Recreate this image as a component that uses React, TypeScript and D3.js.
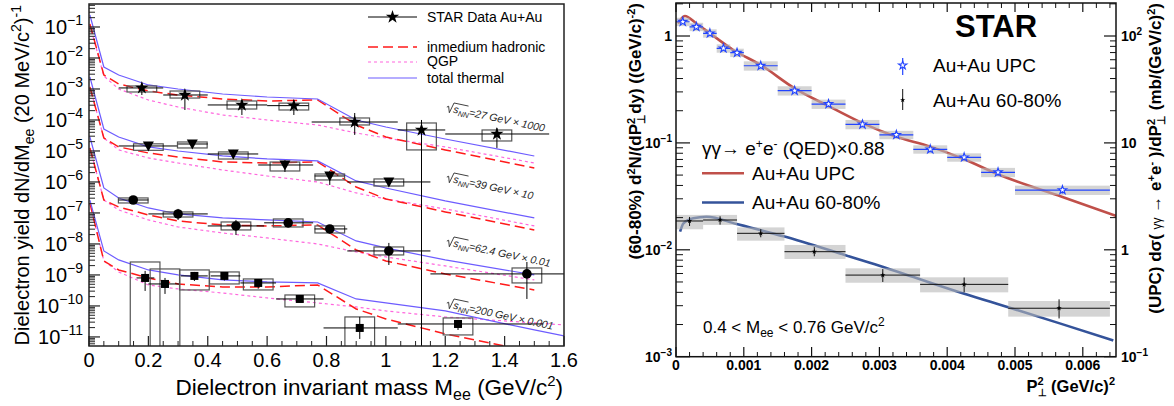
import React from "react";
import * as d3 from "d3";

// ================= LEFT PANEL DATA =================
// theory curves sampled on a common mass grid (GeV/c^2); null = not drawn
const MASS_GRID = [0.003, 0.05, 0.1, 0.2, 0.3, 0.45, 0.6, 0.77, 0.9, 1.0, 1.2, 1.5, 1.6];

const thermal27 = [0.244, 5.12e-3, 2.83e-3, 1.35e-3, 1.0e-3, 6.9e-4, 5.52e-4, 4.76e-4, 1.0e-4, 5.95e-5, 2.44e-5, 6.9e-6, null];
const hadronic27 = [0.125, 2.83e-3, 1.45e-3, 8.62e-4, 6.4e-4, 4.76e-4, 4.1e-4, 4.42e-4, 6.9e-5, 2.83e-5, 1.08e-5, 2.83e-6, null];
const qgp27 = [0.116, 2.62e-3, 1.0e-3, 4.42e-4, 2.62e-4, 1.45e-4, 1.0e-4, 6.9e-5, 3.81e-5, 2.62e-5, 1.35e-5, 4.1e-6, null];

const thermal39 = [2.44e-3, 5.12e-5, 2.83e-5, 1.35e-5, 1.0e-5, 6.9e-6, 5.52e-6, 4.76e-6, 1.08e-6, 6.4e-7, 2.44e-7, 6.9e-8, null];
const hadronic39 = [1.16e-3, 2.62e-5, 1.35e-5, 8.62e-6, 6.4e-6, 4.42e-6, 4.1e-6, 4.42e-6, 6.9e-7, 2.83e-7, 1.08e-7, 2.83e-8, null];
const qgp39 = [1.16e-3, 2.62e-5, 1.08e-5, 5.95e-6, 4.1e-6, 2.44e-6, 1.56e-6, 1.0e-6, 4.42e-7, 2.83e-7, 1.35e-7, 3.81e-8, null];

const thermal62 = [2.83e-5, 6.4e-7, 3.05e-7, 1.45e-7, 9.28e-8, 6.9e-8, 5.95e-8, 5.12e-8, 1.25e-8, 7.43e-9, 3.05e-9, 1.0e-9, null];
const hadronic62 = [1.25e-5, 2.62e-7, 1.56e-7, 8.62e-8, 5.52e-8, 4.1e-8, 3.81e-8, 4.1e-8, 6.4e-9, 2.83e-9, 1.08e-9, 3.28e-10, null];
const qgp62 = [1.25e-5, 2.62e-7, 1.25e-7, 5.95e-8, 3.53e-8, 2.26e-8, 1.56e-8, 1.0e-8, 5.52e-9, 3.81e-9, 1.95e-9, 6.9e-10, null];

const thermal200 = [2.6e-7, 5.95e-9, 3.05e-9, 1.45e-9, 1.0e-9, 6.9e-10, 5.95e-10, 5.52e-10, 1.68e-10, 1.25e-10, 6.9e-11, 1.68e-11, 1.08e-11];
const hadronic200 = [2.1e-7, 2.83e-9, 1.45e-9, 8.0e-10, 5.12e-10, 4.1e-10, 4.1e-10, 4.76e-10, 8.0e-11, 3.81e-11, 1.25e-11, 3.28e-12, 2.1e-12];
const qgp200 = [2.1e-7, 2.83e-9, 1.25e-9, 4.76e-10, 3.53e-10, 2.62e-10, 1.81e-10, 1.25e-10, 9.28e-11, 6.9e-11, 4.42e-11, 2.83e-11, 2.44e-11];

// STAR data rows: [mass, yield, xLow, xHigh, statLow, statHigh, sysLow, sysHigh]
type Row = number[];
const data27: Row[] = [
  [0.178, 1.08e-3, 0.10, 0.25, 6.4e-4, 1.56e-3, 8.0e-4, 1.25e-3],
  [0.323, 6.4e-4, 0.25, 0.40, 2.1e-4, 9.3e-4, 5.1e-4, 8.6e-4],
  [0.515, 3.05e-4, 0.40, 0.60, 1.45e-4, 4.4e-4, 2.26e-4, 4.1e-4],
  [0.690, 2.9e-4, 0.60, 0.74, 1.45e-4, 4.4e-4, 2.1e-4, 3.5e-4],
  [0.895, 8.6e-5, 0.75, 1.04, 3.3e-5, 1.68e-4, 6.9e-5, 1.16e-4],
  [1.120, 4.76e-5, 1.04, 1.20, 1e-14, 1.0e-4, 1.08e-5, 8.0e-5],
  [1.374, 3.53e-5, 1.20, 1.55, 1.25e-5, 5.5e-5, 2.1e-5, 4.76e-5],
];
const data39: Row[] = [
  [0.200, 1.45e-5, 0.10, 0.30, 1.1e-5, 1.85e-5, 1.05e-5, 1.7e-5],
  [0.348, 1.68e-5, 0.30, 0.40, 1.35e-5, 2.0e-5, 1.25e-5, 1.95e-5],
  [0.486, 8.0e-6, 0.40, 0.57, 5.5e-6, 1.08e-5, 5.5e-6, 9.3e-6],
  [0.660, 3.53e-6, 0.57, 0.755, 2.1e-6, 5.1e-6, 2.26e-6, 4.4e-6],
  [0.811, 1.56e-6, 0.76, 0.86, 8.0e-7, 2.26e-6, 1.16e-6, 1.81e-6],
  [1.010, 1.0e-6, 0.87, 1.15, 7.4e-7, 1.25e-6, 7.4e-7, 1.25e-6],
];
const data62: Row[] = [
  [0.149, 2.62e-7, 0.10, 0.20, 2.2e-7, 3.1e-7, 2.1e-7, 3.05e-7],
  [0.300, 9.3e-8, 0.20, 0.40, 5.95e-8, 1.35e-7, 7.4e-8, 1.08e-7],
  [0.495, 3.81e-8, 0.40, 0.59, 1.95e-8, 5.95e-8, 2.83e-8, 5.12e-8],
  [0.671, 4.8e-8, 0.59, 0.755, 3.8e-8, 6.0e-8, 3.53e-8, 6.4e-8],
  [0.811, 3.05e-8, 0.76, 0.87, 2.2e-8, 4.0e-8, 2.26e-8, 3.81e-8],
  [1.010, 5.95e-9, 0.87, 1.15, 2.1e-9, 1.08e-8, 4.42e-9, 8.0e-9],
  [1.475, 1.08e-9, 1.15, 1.65, 1.68e-10, 2.62e-9, 5.52e-10, 1.68e-9],
];
const data200: Row[] = [
  [0.189, 8.0e-10, 0.16, 0.22, 3.05e-10, 1.35e-9, 1e-14, 2.62e-9],
  [0.256, 5.12e-10, 0.20, 0.306, 2.44e-10, 8.0e-10, 1e-14, 1.56e-9],
  [0.355, 9.3e-10, 0.31, 0.40, 6.4e-10, 1.25e-9, 3.28e-10, 1.45e-9],
  [0.456, 9.3e-10, 0.41, 0.51, 6.6e-10, 1.2e-9, 5.12e-10, 1.25e-9],
  [0.570, 5.52e-10, 0.51, 0.63, 3.6e-10, 7.4e-10, 3.28e-10, 7.43e-10],
  [0.710, 1.68e-10, 0.63, 0.79, 1.3e-10, 2.2e-10, 9.3e-11, 2.26e-10],
  [0.912, 1.95e-11, 0.79, 1.04, 8.6e-12, 4.42e-11, 1e-14, 4.42e-11],
  [1.243, 2.62e-11, 1.04, 1.53, 1.68e-11, 3.53e-11, 1.16e-11, 4.1e-11],
];
const ENERGY_TEXT = ["=27 GeV \u00d7 1000", "=39 GeV \u00d7 10", "=62.4 GeV \u00d7 0.01", "=200 GeV \u00d7 0.001"];
const SYS_HALF_WIDTH = 0.05;

// ================= RIGHT PANEL DATA =================
const upcPt2 = [0.0001, 0.0003, 0.0005, 0.0007, 0.0009, 0.00125, 0.00175, 0.00225, 0.00275, 0.00325, 0.00375, 0.00425, 0.00475, 0.0057];
const upcYield = [1.36, 1.22, 1.06, 0.767, 0.698, 0.527, 0.308, 0.231, 0.149, 0.119, 0.0871, 0.0733, 0.0531, 0.0362];
const upcBinLo = [0, 0.0002, 0.0004, 0.0006, 0.0008, 0.001, 0.0015, 0.002, 0.0025, 0.003, 0.0035, 0.004, 0.0045, 0.005];
const upcBinHi = [0.0002, 0.0004, 0.0006, 0.0008, 0.001, 0.0015, 0.002, 0.0025, 0.003, 0.0035, 0.004, 0.0045, 0.005, 0.0064];
const upcSysFrac = [0.09, 0.09, 0.09, 0.09, 0.09, 0.1, 0.1, 0.1, 0.1, 0.09, 0.09, 0.09, 0.1, 0.1];
const upcStatFrac = [0.05, 0.05, 0.05, 0.05, 0.05, 0.05, 0.05, 0.05, 0.06, 0.06, 0.06, 0.06, 0.07, 0.07];

const cenPt2 = [0.0002, 0.00065, 0.00125, 0.00204, 0.00305, 0.00425, 0.00565];
const cenYield = [0.0186, 0.019, 0.01426, 0.0096, 0.0058, 0.00475, 0.00284];
const cenBinLo = [0, 0.0004, 0.0009, 0.0016, 0.0025, 0.0036, 0.0049];
const cenBinHi = [0.0004, 0.0009, 0.0016, 0.0025, 0.0036, 0.0049, 0.0064];
const cenStatLo = [0.0167, 0.0172, 0.0131, 0.0087, 0.005, 0.004, 0.00228];
const cenStatHi = [0.0203, 0.0206, 0.0156, 0.0106, 0.0066, 0.0055, 0.00344];
const cenSysLo = [0.01556, 0.0171, 0.01217, 0.0082, 0.00492, 0.004, 0.00237];
const cenSysHi = [0.0212, 0.0212, 0.0162, 0.0111, 0.00671, 0.00553, 0.00332];

const qedUpcPt2 = [0.00003, 0.00013, 0.0003, 0.0005, 0.000845, 0.00125, 0.00175, 0.00225, 0.00275, 0.00325, 0.00375, 0.00425, 0.00474, 0.00569, 0.0065];
const qedUpcVal = [1.31, 1.54, 1.31, 1.06, 0.74, 0.535, 0.324, 0.221, 0.153, 0.114, 0.0923, 0.0703, 0.0512, 0.0314, 0.0207];
const qedCenPt2 = [0.00006, 0.00011, 0.000255, 0.00045, 0.000895, 0.0016, 0.0025, 0.003, 0.0036, 0.00424, 0.0049, 0.00566, 0.00645];
const qedCenVal = [0.01476, 0.0177, 0.0197, 0.0204, 0.0174, 0.0133, 0.0089, 0.0071, 0.0053, 0.0039, 0.0029, 0.00205, 0.00142];

// ================= STYLE =================
const FONT = "'Liberation Sans', Arial, Helvetica, sans-serif";
const C_THERMAL = "#6d5cff";
const C_HADR = "#ff1a1a";
const C_QGP = "#ff66dd";
const C_UPC = "#c0504a";
const C_CEN = "#34539a";
const C_UPC_PT = "#2244ff";

const LEFT_SETS = [
  { rows: data27, thermal: thermal27, hadronic: hadronic27, qgp: qgp27, marker: "star" },
  { rows: data39, thermal: thermal39, hadronic: hadronic39, qgp: qgp39, marker: "tri" },
  { rows: data62, thermal: thermal62, hadronic: hadronic62, qgp: qgp62, marker: "circle" },
  { rows: data200, thermal: thermal200, hadronic: hadronic200, qgp: qgp200, marker: "square" },
];
const LABEL_ANCHORS = [[446, 111], [446, 181], [446, 245], [446, 307]];

function Marker({ kind, x, y, size = 55 }: { kind: string; x: number; y: number; size?: number }) {
  if (kind === "star")
    return <path d={d3.symbol().type(d3.symbolStar).size(size)() as string} transform={`translate(${x},${y})`} fill="#000" />;
  if (kind === "tri") return <path d="M-5.5,-4.5L5.5,-4.5L0,5.5Z" transform={`translate(${x},${y})`} fill="#000" />;
  if (kind === "circle") return <circle cx={x} cy={y} r={4.8} fill="#000" />;
  return <rect x={x - 4} y={y - 4} width={8} height={8} fill="#000" />;
}

function pow10(e: number, supSize: number, dy: number) {
  if (e === 0) return "1";
  if (e === 1) return "10";
  return (
    <>
      10<tspan dy={dy} fontSize={supSize}>{e < 0 ? "\u2212" + -e : String(e)}</tspan>
    </>
  );
}

export default function App() {
  // ---- left scales
  const xL = d3.scaleLinear().domain([0, 1.6]).range([89, 564]);
  const yL = d3.scaleLog().domain([5.1e-12, 0.552]).range([346, 4]);
  // ---- right scales
  const xR = d3.scaleLinear().domain([0, 0.0065]).range([676, 1116.7]);
  const yR = d3.scaleLog().domain([1e-3, 2.036]).range([356.7, 3]);
  const yR2 = d3.scaleLog().domain([0.1, 203.6]).range([356.7, 3]);

  const curveL = (vals: (number | null)[]) =>
    d3
      .line<number>()
      .defined((_, i) => vals[i] != null)
      .x((_, i) => xL(MASS_GRID[i]))
      .y((_, i) => yL(vals[i] as number))(MASS_GRID.map((_, i) => i)) as string;

  const curveR = (xs: number[], vs: number[]) =>
    d3
      .line<number>()
      .x((_, i) => xR(xs[i]))
      .y((_, i) => yR(vs[i]))
      .curve(d3.curveMonotoneX)(vs) as string;

  // left ticks
  const lxMajor = d3.range(0, 9).map((i) => i * 0.2);
  const lxMinor = d3.range(0, 33).filter((i) => i % 4 !== 0).map((i) => i * 0.05);
  const lyMajor = d3.range(-11, 0);
  const lyMinor: number[] = [];
  for (let e = -12; e <= -1; e++) for (let k = 2; k <= 9; k++) {
    const v = k * Math.pow(10, e);
    if (v > 5.1e-12 && v < 0.552) lyMinor.push(v);
  }
  // right ticks
  const rxMajor = d3.range(0, 7).map((i) => i * 0.001);
  const rxMinor = d3.range(0, 33).filter((i) => i % 5 !== 0).map((i) => i * 0.0002);
  const ryMajor = d3.range(-3, 1);
  const ryMinor: number[] = [];
  for (let e = -3; e <= 0; e++) for (let k = 2; k <= 9; k++) {
    const v = k * Math.pow(10, e);
    if (v < 2.036) ryMinor.push(v);
  }
  const ry2Major = d3.range(-1, 3);
  const ry2Minor: number[] = [];
  for (let e = -1; e <= 2; e++) for (let k = 2; k <= 9; k++) {
    const v = k * Math.pow(10, e);
    if (v < 203.6) ry2Minor.push(v);
  }

  const upcStar = d3.symbol().type(d3.symbolStar).size(22)() as string;
  const cenStar = d3.symbol().type(d3.symbolStar).size(9)() as string;

  return (
    <svg width={1174} height={406} style={{ position: "absolute", left: 0, top: 0, background: "#fff" }} fontFamily={FONT}>
      <defs>
        <clipPath id="clipL"><rect x={89} y={4} width={475} height={342} /></clipPath>
        <clipPath id="clipR"><rect x={676} y={3} width={440} height={353.7} /></clipPath>
      </defs>

      {/* ================= LEFT PANEL ================= */}
      <g clipPath="url(#clipL)">
        {LEFT_SETS.map((s, si) => (
          <g key={"c" + si}>
            <path d={curveL(s.qgp)} fill="none" stroke={C_QGP} strokeWidth={1.2} strokeDasharray="3 3" />
            <path d={curveL(s.hadronic)} fill="none" stroke={C_HADR} strokeWidth={1.5} strokeDasharray="10 5" />
            <path d={curveL(s.thermal)} fill="none" stroke={C_THERMAL} strokeWidth={1.2} />
          </g>
        ))}
        {LEFT_SETS.map((s, si) => (
          <g key={"d" + si}>
            {s.rows.map((r, i) => (
              <g key={i}>
                <rect x={xL(r[0] - SYS_HALF_WIDTH)} y={yL(r[7])} width={xL(r[0] + SYS_HALF_WIDTH) - xL(r[0] - SYS_HALF_WIDTH)}
                  height={yL(r[6]) - yL(r[7])} fill="none" stroke="#555" strokeWidth={1.2} />
                <line x1={xL(r[2])} x2={xL(r[3])} y1={yL(r[1])} y2={yL(r[1])} stroke="#000" strokeWidth={1} />
                <line x1={xL(r[0])} x2={xL(r[0])} y1={yL(r[4])} y2={yL(r[5])} stroke="#000" strokeWidth={1} />
                <Marker kind={s.marker} x={xL(r[0])} y={yL(r[1])} />
              </g>
            ))}
          </g>
        ))}
      </g>
      {/* energy labels */}
      {LABEL_ANCHORS.map(([lx, ly], i) => (
        <g key={"lab" + i} transform={`translate(${lx},${ly}) rotate(12)`}>
          <path d="M0,-4L1.6,-5.2L3.6,1L6.2,-9.5L21,-9.5" fill="none" stroke="#222" strokeWidth={0.8} />
          <text x={7} y={0} fontSize={10.5} fontStyle="italic" fill="#222">
            s<tspan dy={2.5} fontSize={7.5}>NN</tspan><tspan dy={-2.5}>{ENERGY_TEXT[i]}</tspan>
          </text>
        </g>
      ))}
      {/* left legend */}
      <g fontSize={14}>
        <line x1={368} x2={417} y1={17} y2={17} stroke="#000" strokeWidth={1} />
        <Marker kind="star" x={392.5} y={17} />
        <text x={427} y={22}>STAR Data Au+Au</text>
        <line x1={368} x2={417} y1={47} y2={47} stroke={C_HADR} strokeWidth={1.5} strokeDasharray="10 5" />
        <text x={427} y={52}>inmedium hadronic</text>
        <line x1={368} x2={417} y1={62} y2={62} stroke={C_QGP} strokeWidth={1.2} strokeDasharray="3 3" />
        <text x={427} y={66}>QGP</text>
        <line x1={368} x2={417} y1={78} y2={78} stroke={C_THERMAL} strokeWidth={1.2} />
        <text x={427} y={83}>total thermal</text>
      </g>
      {/* left axes */}
      <g stroke="#222">
        {lxMajor.map((v) => <line key={"lxM" + v} x1={xL(v)} x2={xL(v)} y1={346} y2={336} strokeWidth={1.2} />)}
        {lxMinor.map((v) => <line key={"lxm" + v} x1={xL(v)} x2={xL(v)} y1={346} y2={341} strokeWidth={1} />)}
        {lyMajor.map((e) => <line key={"lyM" + e} x1={89} x2={100} y1={yL(Math.pow(10, e))} y2={yL(Math.pow(10, e))} strokeWidth={1.2} />)}
        {lyMinor.map((v) => <line key={"lym" + v} x1={89} x2={95} y1={yL(v)} y2={yL(v)} strokeWidth={1} />)}
      </g>
      <rect x={89} y={4} width={475} height={342} fill="none" stroke="#222" strokeWidth={1.5} />
      <g fontSize={20} textAnchor="middle">
        {lxMajor.map((v) => (
          <text key={"lxl" + v} x={xL(v)} y={367}>{String(+v.toFixed(1))}</text>
        ))}
      </g>
      <g fontSize={20} textAnchor="end">
        {lyMajor.map((e) => (
          <text key={"lyl" + e} x={83} y={yL(Math.pow(10, e)) + 7}>{pow10(e, 14, -9)}</text>
        ))}
      </g>
      <text x={563} y={395} textAnchor="end" fontSize={22.5}>
        Dielectron invariant mass M<tspan dy={5} fontSize={16}>ee</tspan><tspan dy={-5}> (GeV/c</tspan>
        <tspan dy={-9} fontSize={15}>2</tspan><tspan dy={9}>)</tspan>
      </text>
      <text transform="translate(29,5) rotate(-90)" textAnchor="end" fontSize={20}>
        Dielectron yield dN/dM<tspan dy={5} fontSize={14}>ee</tspan><tspan dy={-5}> (20 MeV/c</tspan>
        <tspan dy={-8} fontSize={14}>2</tspan><tspan dy={8}>)</tspan><tspan dy={-8} fontSize={14}>-1</tspan>
      </text>

      {/* ================= RIGHT PANEL ================= */}
      <g clipPath="url(#clipR)">
        <path d={curveR(qedUpcPt2, qedUpcVal)} fill="none" stroke={C_UPC} strokeWidth={2.6} />
        <path d={curveR(qedCenPt2, qedCenVal)} fill="none" stroke={C_CEN} strokeWidth={2.6} />
        {/* sys boxes */}
        {upcYield.map((v, i) => (
          <rect key={"ub" + i} x={xR(upcBinLo[i])} width={xR(upcBinHi[i]) - xR(upcBinLo[i])}
            y={yR(v * (1 + upcSysFrac[i]))} height={yR(v * (1 - upcSysFrac[i])) - yR(v * (1 + upcSysFrac[i]))}
            fill="#b8b8b8" fillOpacity={0.6} />
        ))}
        {cenYield.map((v, i) => (
          <rect key={"cb" + i} x={xR(cenBinLo[i])} width={xR(cenBinHi[i]) - xR(cenBinLo[i])}
            y={yR(cenSysHi[i])} height={yR(cenSysLo[i]) - yR(cenSysHi[i])}
            fill="#b8b8b8" fillOpacity={0.6} />
        ))}
        {/* UPC points */}
        {upcYield.map((v, i) => (
          <g key={"up" + i} stroke={C_UPC_PT}>
            <line x1={xR(upcBinLo[i])} x2={xR(upcBinHi[i])} y1={yR(v)} y2={yR(v)} strokeWidth={1.2} />
            <line x1={xR(upcPt2[i])} x2={xR(upcPt2[i])} y1={yR(v * (1 + upcStatFrac[i]))} y2={yR(v * (1 - upcStatFrac[i]))} strokeWidth={1.2} />
            <path d={upcStar} transform={`translate(${xR(upcPt2[i])},${yR(v)})`} fill="#fff" strokeWidth={1.1} />
          </g>
        ))}
        {/* 60-80% points */}
        {cenYield.map((v, i) => (
          <g key={"cp" + i} stroke="#111">
            <line x1={xR(cenBinLo[i])} x2={xR(cenBinHi[i])} y1={yR(v)} y2={yR(v)} strokeWidth={1} />
            <line x1={xR(cenPt2[i])} x2={xR(cenPt2[i])} y1={yR(cenStatLo[i])} y2={yR(cenStatHi[i])} strokeWidth={1} />
            <path d={cenStar} transform={`translate(${xR(cenPt2[i])},${yR(v)})`} fill="#000" stroke="none" />
          </g>
        ))}
      </g>
      {/* right axes ticks */}
      <g stroke="#111">
        {rxMajor.map((v) => (
          <g key={"rxM" + v}>
            <line x1={xR(v)} x2={xR(v)} y1={356.7} y2={347} strokeWidth={1.2} />
            <line x1={xR(v)} x2={xR(v)} y1={3} y2={12} strokeWidth={1.2} />
          </g>
        ))}
        {rxMinor.map((v) => (
          <g key={"rxm" + v}>
            <line x1={xR(v)} x2={xR(v)} y1={356.7} y2={352} strokeWidth={1} />
            <line x1={xR(v)} x2={xR(v)} y1={3} y2={8} strokeWidth={1} />
          </g>
        ))}
        {ryMajor.map((e) => <line key={"ryM" + e} x1={676} x2={690} y1={yR(Math.pow(10, e))} y2={yR(Math.pow(10, e))} strokeWidth={1.2} />)}
        {ryMinor.map((v) => <line key={"rym" + v} x1={676} x2={683} y1={yR(v)} y2={yR(v)} strokeWidth={1} />)}
        {ry2Major.map((e) => <line key={"r2M" + e} x1={1116} x2={1104} y1={yR2(Math.pow(10, e))} y2={yR2(Math.pow(10, e))} strokeWidth={1.2} />)}
        {ry2Minor.map((v) => <line key={"r2m" + v} x1={1116} x2={1110} y1={yR2(v)} y2={yR2(v)} strokeWidth={1} />)}
      </g>
      <rect x={676} y={3} width={440} height={353.7} fill="none" stroke="#111" strokeWidth={1.5} />
      <g fontSize={14} fontWeight="bold" textAnchor="middle">
        {rxMajor.map((v) => (
          <text key={"rxl" + v} x={xR(v)} y={370}>{v === 0 ? "0" : v.toFixed(3)}</text>
        ))}
      </g>
      <g fontSize={14} fontWeight="bold" textAnchor="end">
        {ryMajor.map((e) => (
          <text key={"ryl" + e} x={672} y={yR(Math.pow(10, e)) + 5}>{pow10(e, 10, -6)}</text>
        ))}
      </g>
      <g fontSize={14} fontWeight="bold" textAnchor="start">
        {ry2Major.map((e) => (
          <text key={"r2l" + e} x={1121} y={yR2(Math.pow(10, e)) + 5}>{pow10(e, 10, -6)}</text>
        ))}
      </g>
      {/* right titles */}
      <text x={1115} y={392} textAnchor="end" fontSize={16.5} fontWeight="bold">
        P<tspan dy={-7} fontSize={11}>2</tspan><tspan dx={-6} dy={11} fontSize={10}>{"\u22a5"}</tspan>
        <tspan dy={-4}> (GeV/c)</tspan><tspan dy={-7} fontSize={11}>2</tspan>
      </text>
      <text transform="translate(641,3) rotate(-90)" textAnchor="end" fontSize={17} fontWeight="bold">
        (60-80%) d<tspan dy={-6} fontSize={11}>2</tspan><tspan dy={6}>N/(dP</tspan><tspan dy={-6} fontSize={11}>2</tspan>
        <tspan dx={-6} dy={10} fontSize={11}>{"\u22a5"}</tspan><tspan dy={-4}>dy) ((GeV/c)</tspan>
        <tspan dy={-6} fontSize={11}>-2</tspan><tspan dy={6}>)</tspan>
      </text>
      <text transform="translate(1161,3) rotate(-90)" textAnchor="end" fontSize={17} fontWeight="bold">
        (UPC) d{"\u03c3"}( <tspan fontSize={12} fontWeight="normal">{"\u03b3\u03b3"}</tspan> {"\u2192"} e
        <tspan dy={-6} fontSize={11}>+</tspan><tspan dy={6}>e</tspan><tspan dy={-6} fontSize={11}>-</tspan>
        <tspan dy={6}> )/dP</tspan><tspan dy={-6} fontSize={11}>2</tspan>
        <tspan dx={-6} dy={10} fontSize={11}>{"\u22a5"}</tspan><tspan dy={-4}> (mb/(GeV/c)</tspan>
        <tspan dy={-6} fontSize={11}>2</tspan><tspan dy={6}>)</tspan>
      </text>
      {/* right legends */}
      <text x={955} y={37} fontSize={31} fontWeight="bold">STAR</text>
      <line x1={902.7} x2={902.7} y1={58} y2={75} stroke={C_UPC_PT} strokeWidth={1.2} />
      <path d={upcStar} transform="translate(902.7,65.3)" fill="#fff" stroke={C_UPC_PT} strokeWidth={1.1} />
      <text x={933} y={72} fontSize={19}>Au+Au UPC</text>
      <line x1={902.7} x2={902.7} y1={89} y2={110} stroke="#111" strokeWidth={1} />
      <path d={cenStar} transform="translate(902.7,100)" fill="#000" />
      <text x={933} y={107} fontSize={19}>Au+Au 60-80%</text>

      <text x={702} y={155} fontSize={19}>
        {"\u03b3\u03b3\u2192 e"}<tspan dy={-7} fontSize={12}>+</tspan><tspan dy={7}>e</tspan>
        <tspan dy={-7} fontSize={12}>-</tspan><tspan dy={7}> (QED)×0.88</tspan>
      </text>
      <line x1={702} x2={744} y1={173.3} y2={173.3} stroke={C_UPC} strokeWidth={2.6} />
      <text x={752} y={180} fontSize={19}>Au+Au UPC</text>
      <line x1={702} x2={744} y1={202.5} y2={202.5} stroke={C_CEN} strokeWidth={2.6} />
      <text x={752} y={209} fontSize={19}>Au+Au 60-80%</text>
      <text x={703} y={333} fontSize={17}>
        0.4 &lt; M<tspan dy={4} fontSize={12}>ee</tspan><tspan dy={-4}> &lt; 0.76 GeV/c</tspan>
        <tspan dy={-7} fontSize={12}>2</tspan>
      </text>
    </svg>
  );
}
